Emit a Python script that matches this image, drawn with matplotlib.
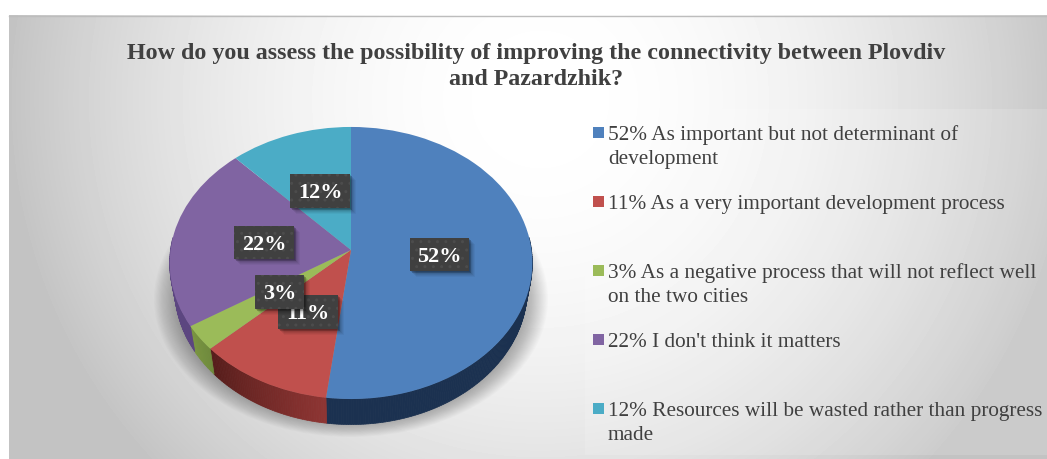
import numpy as np
import matplotlib
matplotlib.use("Agg")
import matplotlib.pyplot as plt
from matplotlib.patches import Ellipse, Rectangle
from matplotlib.transforms import Transform

plt.rcParams['font.family'] = ['Liberation Serif', 'DejaVu Serif']
plt.rcParams['hatch.linewidth'] = 1.0

title_lines = ["How do you assess the possibility of improving the connectivity between Plovdiv",
               "and Pazardzhik?"]
values = [52, 11, 3, 22, 12]
legend_labels = [
    ["As important but not determinant of", "development"],
    ["As a very important development process"],
    ["As a negative process that will not reflect well", "on the two cities"],
    ["I don't think it matters"],
    ["Resources will be wasted rather than progress", "made"],
]
colors = ['#4f81bd', '#c0504d', '#9bbb59', '#8064a2', '#4bacc6']
side_start = ['#1c3250', '#8e3533', '#6f8a3c', '#5c4680', '#2f7f96']
side_end = ['#1b3150', '#571d1b', '#7a9641', '#5c4680', '#2f7f96']

W, H = 1047, 460
CX, CY, RX, RY, K = 351, 251, 180.5, 134.8, 0.0955
DEPTH = 25.5
RIM_NARROW = 5
label_centers = [(439.5, 255.5), (308, 313), (279.5, 293), (264, 243.5), (320, 192)]
label_sizes = [(59, 33), (60, 34), (49, 34), (60, 33), (60, 34)]
draw_order = [0, 1, 2, 3, 4]
legend_y = [133.5, 202.5, 271.5, 340.5, 409.5]


class Perspective(Transform):
    """Unit-circle pie plane seen in perspective, output in pixel coordinates."""
    input_dims = 2
    output_dims = 2
    is_separable = False
    has_inverse = False

    def __init__(self, dy=0.0, rx=RX):
        super().__init__()
        self.dy = dy
        self.rx = rx

    def transform_non_affine(self, v):
        v = np.asarray(v, dtype=float)
        w = 1 + K * v[:, 1]
        return np.column_stack((CX + self.rx * v[:, 0] / w, CY + self.dy - RY * v[:, 1] / w))


fig = plt.figure(figsize=(W / 100, H / 100), dpi=100, facecolor='white')
ax = fig.add_axes([0, 0, 1, 1])

wedges, _ = ax.pie(values, colors=colors, startangle=90, counterclock=False,
                   wedgeprops=dict(linewidth=0, zorder=4))
persp = Perspective()
for w in wedges:
    w.set_transform(persp + ax.transData)

ax.set_aspect('auto')
ax.set_xlim(0, W)
ax.set_ylim(H, 0)
ax.axis('off')

# panel background: radial gradient
yy, xx = np.mgrid[16:460, 9:1047]
dist = np.hypot(xx - 540, yy - 100)
shade = 1 - np.minimum(60, 59 * (dist / 530) ** 2) / 255
ax.imshow(shade, cmap='gray', vmin=0, vmax=1, extent=(9, W, H, 16), aspect='auto',
          interpolation='bilinear', zorder=0)
ax.set_xlim(0, W)
ax.set_ylim(H, 0)
ax.plot([9, W], [16.5, 16.5], color='#bdbdbd', lw=1, zorder=1)
ax.add_patch(Rectangle((585, 110), W - 585, 346, fc='white', alpha=0.15, lw=0, zorder=1))

# soft drop shadow below the pie
layers = 22
for i in range(layers):
    s = 1.0 - 0.13 * i / layers
    ax.add_patch(Ellipse((351, 300), 2 * 197 * s, 2 * 138 * s, fc='black', alpha=0.015, lw=0, zorder=2))

# extruded rim, drawn from the same slice angles
fractions = np.array(values) / sum(values)
edges = np.concatenate(([0], np.cumsum(fractions))) * 2 * np.pi


def rim(theta, dy, rx):
    return Perspective(dy, rx).transform_non_affine(np.column_stack((np.sin(theta), np.cos(theta))))


for i in range(len(values)):
    th = np.linspace(edges[i], edges[i + 1], max(4, int(values[i] * 5)))
    c0 = np.array(matplotlib.colors.to_rgb(side_start[i]))
    c1 = np.array(matplotlib.colors.to_rgb(side_end[i]))
    for j in range(len(th) - 1):
        seg = th[j:j + 2]
        if np.cos(seg.mean()) > 0.09:
            continue
        top = rim(seg, 0, RX)
        bot = rim(seg, DEPTH, RX - RIM_NARROW)
        poly = np.vstack((top, bot[::-1]))
        f = j / max(1, len(th) - 2)
        col = c0 * (1 - f) + c1 * f
        ax.fill(poly[:, 0], poly[:, 1], color=col, lw=0.5, zorder=3)

# data labels (11% sits under 3%, as in the source)
label_z = {0: 5.0, 1: 5.1, 2: 5.2, 3: 5.3, 4: 5.4}
for i in draw_order:
    x, y = label_centers[i]
    w, h = label_sizes[i]
    z = label_z[i]
    for d, a in ((7, 0.04), (6, 0.05), (5, 0.06), (4, 0.08), (3, 0.10), (2, 0.12), (1, 0.14)):
        ax.add_patch(Rectangle((x - w / 2 + d * 0.8, y - h / 2 + d * 0.8), w, h, fc='black', alpha=a, lw=0,
                               zorder=z))
    ax.add_patch(Rectangle((x - w / 2, y - h / 2), w, h, fc='#404040', ec='#4c4c4c', hatch='..',
                           lw=0, zorder=z + 0.01))
    ax.text(x, y + 1.5, f"{values[i]}%", color='white', fontweight='bold', fontsize=16,
            ha='center', va='center', zorder=z + 0.02)

# title
for n, line in enumerate(title_lines):
    ax.text(536, 59 + 26 * n, line, ha='center', va='baseline', fontsize=17.25, fontweight='bold',
            color='#404040', zorder=6)

# legend
for i, lab in enumerate(legend_labels):
    y = legend_y[i]
    ax.add_patch(Rectangle((593, y - 5.5), 11, 11, fc=colors[i], lw=0, zorder=6))
    for n, line in enumerate(lab):
        text = f"{values[i]}% {line}" if n == 0 else line
        ax.text(608, y + 6.5 + 24 * n, text, ha='left', va='baseline', fontsize=15.35,
                color='#404040', zorder=6)

fig.savefig('out.png', dpi=100)
